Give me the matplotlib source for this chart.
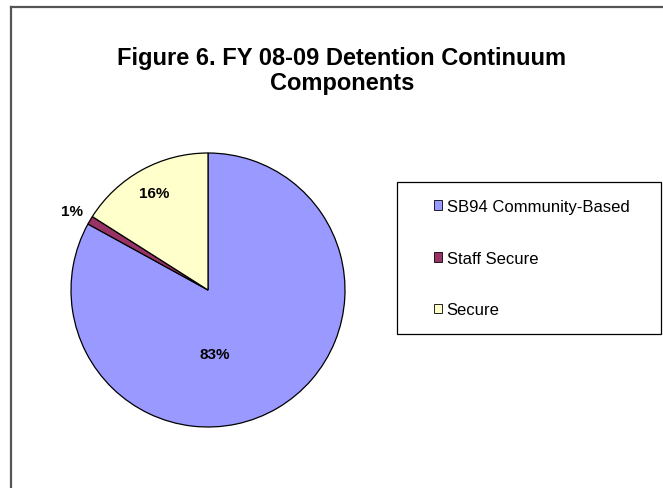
import matplotlib
matplotlib.use('Agg')
import matplotlib.pyplot as plt
from matplotlib.patches import Patch, Rectangle
from matplotlib.lines import Line2D
import numpy as np

plt.rcParams['font.family'] = ['Liberation Sans', 'DejaVu Sans']

components = ['SB94 Community-Based', 'Staff Secure', 'Secure']
shares = [83, 1, 16]
colours = ['#9999FF', '#993366', '#FFFFCC']

W, H = 663, 489
fig = plt.figure(figsize=(W / 100, H / 100), dpi=100)
ax = fig.add_axes([0, 0, 1, 1])

# pie centre and radius in pixel units (y measured from the bottom)
cx, cy, R = 208, H - 291, 137
wedges, _ = ax.pie(shares, colors=colours, startangle=90, counterclock=False,
                   center=(cx, cy), radius=R,
                   wedgeprops=dict(edgecolor='black', linewidth=0.9))
ax.set_xlim(0, W)
ax.set_ylim(0, H)
ax.set_aspect('equal', adjustable='box')
ax.axis('off')

# percentage labels, offsets in radius units from the centre
label_pos = [(0.05, -0.47), (-0.99, 0.58), (-0.39, 0.71)]
for val, (dx, dy) in zip(shares, label_pos):
    ax.text(cx + dx * R, cy + dy * R, f'{val}%', ha='center', va='center',
            fontsize=11, fontweight='bold', color='black')

ax.text(342, H - 71, 'Figure 6. FY 08-09 Detention Continuum\nComponents',
        ha='center', va='center', fontsize=17, fontweight='bold',
        linespacing=1.15)

# legend box
ax.add_patch(Rectangle((397, H - 335), 264, 152, facecolor='white',
                       edgecolor='black', linewidth=0.9, zorder=3))
handles = [Patch(facecolor=c, edgecolor='black', linewidth=0.6) for c in colours]
ax.legend(handles, components, loc='upper left',
          bbox_to_anchor=(434, H - 200), bbox_transform=ax.transData,
          frameon=False, fontsize=12, handlelength=0.5, handleheight=0.5,
          handletextpad=0.25, labelspacing=2.2, borderpad=0,
          borderaxespad=0).set_zorder(4)

# outer chart border
fig.add_artist(Line2D([11 / W, 11 / W], [0, 1 - 8 / H], color='#555555',
                      linewidth=1.6, transform=fig.transFigure))
fig.add_artist(Line2D([11 / W, 1], [1 - 8 / H, 1 - 8 / H], color='#555555',
                      linewidth=1.6, transform=fig.transFigure))

fig.savefig('out.png', dpi=100)
